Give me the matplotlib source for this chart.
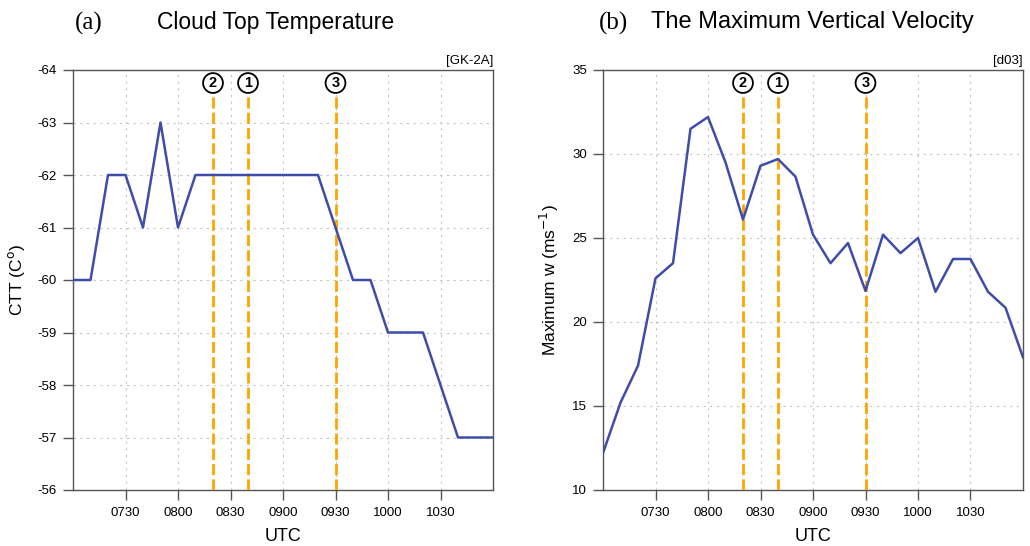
import matplotlib
matplotlib.use("Agg")
import matplotlib.pyplot as plt
import numpy as np

# time in minutes after 0700 UTC (10-min steps)
times = list(range(0, 250, 10))
ctt = [-60, -60, -62, -62, -61, -63, -61, -62, -62, -62, -62, -62, -62, -62, -62,
       -61, -60, -60, -59, -59, -59, -58, -57, -57, -57]
wmax = [12.2, 15.2, 17.4, 22.6, 23.5, 31.5, 32.2, 29.5, 26.1, 29.3, 29.7, 28.65,
        25.2, 23.5, 24.7, 21.85, 25.2, 24.1, 25.0, 21.8, 23.75, 23.75, 21.8, 20.85, 17.9]
xtick_pos = [30, 60, 90, 120, 150, 180, 210]
xtick_labels = ["0730", "0800", "0830", "0900", "0930", "1000", "1030"]
event_times = [80, 100, 150]
event_labels = ["2", "1", "3"]

plt.rcParams['font.family'] = ['Liberation Sans', 'DejaVu Sans']

fig = plt.figure(figsize=(10.3, 5.46), dpi=100)
W, H = 1030, 546
ax1 = fig.add_axes([73 / W, (546 - 490) / H, 420 / W, 420 / H])
ax2 = fig.add_axes([603 / W, (546 - 490) / H, 420 / W, 420 / H])

line_col = '#3F4DAA'
orange = '#FFA500'
spine_col = '#555555'

def style(ax):
    ax.set_xlim(0, 240)
    ax.set_xticks(xtick_pos)
    ax.set_xticklabels(xtick_labels)
    ax.grid(True, linestyle=(0, (2, 4)), color='#c4c4c4', linewidth=0.8)
    for s in ax.spines.values():
        s.set_color(spine_col)
        s.set_linewidth(1.0)
    ax.tick_params(direction='out', length=7.5, width=1.0, color=spine_col,
                   labelsize=9.5, pad=5, axis='x')
    ax.tick_params(direction='out', length=7.5, width=1.0, color=spine_col,
                   labelsize=9.5, pad=4, axis='y')
    ax.set_xlabel("UTC", fontsize=13, labelpad=6)

def events(ax):
    for t, lab in zip(event_times, event_labels):
        ax.axvline(t, ymin=0, ymax=0.945, color=orange, linestyle=(0, (4, 1.5)),
                   linewidth=2.0, zorder=3)
        ax.text(t, 0.969, lab, transform=ax.get_xaxis_transform(), ha='center',
                va='center', fontsize=10.5, fontweight='bold',
                bbox=dict(boxstyle='circle,pad=0.2', fc='white', ec='black', lw=1.3),
                zorder=5)

# Panel (a)
ax1.plot(times, ctt, color=line_col, linewidth=1.8, zorder=4)
ax1.set_ylim(-56, -64)
ax1.set_yticks(list(range(-64, -55)))
ax1.set_yticklabels([str(v) for v in range(-64, -55)])
style(ax1)
ax1.set_ylabel("CTT (C$^{\\mathrm{o}}$)", fontsize=12.5, labelpad=8)
events(ax1)
ax1.text(1.0, 1.008, "[GK-2A]", transform=ax1.transAxes, ha='right', va='bottom', fontsize=9.5)

# Panel (b)
ax2.plot(times, wmax, color=line_col, linewidth=1.8, zorder=4)
ax2.set_ylim(10, 35)
ax2.set_yticks([10, 15, 20, 25, 30, 35])
style(ax2)
ax2.set_ylabel("Maximum w (ms$^{\\mathrm{-1}}$)", fontsize=12.5, labelpad=8)
events(ax2)
ax2.text(1.0, 1.008, "[d03]", transform=ax2.transAxes, ha='right', va='bottom', fontsize=9.5)

# titles
fig.text(89 / W, 1 - 23 / H, "(a)", family='Liberation Serif', fontsize=18, ha='center', va='center')
fig.text(157 / W, 1 - 22 / H, "Cloud Top Temperature", fontsize=16.5, ha='left', va='center')
fig.text(613 / W, 1 - 23 / H, "(b)", family='Liberation Serif', fontsize=18, ha='center', va='center')
fig.text(651 / W, 1 - 22 / H, "The Maximum Vertical Velocity", fontsize=17, ha='left', va='center')

fig.savefig("out.png", dpi=100)
